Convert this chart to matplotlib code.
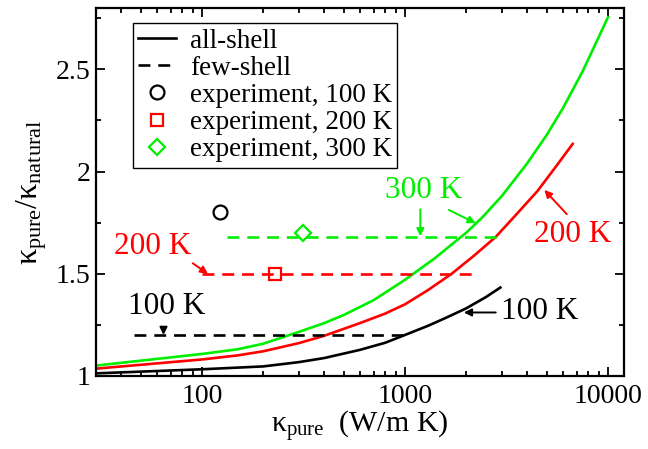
import matplotlib
matplotlib.use("Agg")
import matplotlib.pyplot as plt
from matplotlib.ticker import LogLocator, NullFormatter

plt.rcParams['font.family'] = ['Liberation Serif', 'DejaVu Serif']
plt.rcParams['mathtext.fontset'] = 'custom'
plt.rcParams['mathtext.rm'] = 'Liberation Serif'
plt.rcParams['mathtext.it'] = 'Liberation Serif'
plt.rcParams['mathtext.bf'] = 'Liberation Serif:bold'

# all-shell curves (kappa_pure, ratio)
k_100 = [30, 100, 200, 300, 400, 600, 800, 1000, 1300, 1600, 2000, 2500, 2950]
r_100 = [1.012, 1.032, 1.046, 1.067, 1.087, 1.127, 1.162, 1.2, 1.245, 1.285, 1.33, 1.385, 1.432]
k_200 = [30, 100, 150, 200, 300, 400, 600, 800, 1000, 1300, 1700, 2200, 2800, 3500, 4500, 5500, 6700]
r_200 = [1.035, 1.08, 1.10, 1.12, 1.16, 1.196, 1.258, 1.305, 1.35, 1.42, 1.5, 1.59, 1.68, 1.785,
         1.905, 2.02, 2.135]
k_300 = [30, 100, 150, 200, 300, 400, 500, 700, 1000, 1400, 2000, 2400, 3000, 4000, 5000, 6000,
         7500, 10000]
r_300 = [1.05, 1.107, 1.13, 1.157, 1.215, 1.258, 1.298, 1.37, 1.47, 1.575, 1.70, 1.775, 1.88,
         2.04, 2.18, 2.31, 2.49, 2.755]

# few-shell (flat) results
few_k = [[46, 1000], [100, 2190], [133, 2950]]
few_r = [1.2, 1.5, 1.68]

# experiment
exp_k = [123, 230, 315]
exp_r = [1.8, 1.5, 1.7]

colors = ['black', '#ff0000', '#00ee00']

fig = plt.figure(figsize=(6.48, 4.49), dpi=100)
ax = fig.add_axes([0.148, 0.163, 0.815, 0.819])

lw = 1.9
ax.plot(k_100, r_100, color=colors[0], lw=lw)
ax.plot(k_200, r_200, color=colors[1], lw=lw)
ax.plot(k_300, r_300, color=colors[2], lw=lw)
for i in range(3):
    ax.plot(few_k[i], [few_r[i], few_r[i]], color=colors[i], lw=lw, dashes=(4.5, 3))

ax.plot(exp_k[0], exp_r[0], 'o', ms=10, mfc='none', mec=colors[0], mew=1.6)
ax.plot(exp_k[1], exp_r[1], 's', ms=9, mfc='none', mec=colors[1], mew=1.6)
ax.plot(exp_k[2], exp_r[2], 'D', ms=8, mfc='none', mec=colors[2], mew=1.6)

# annotations
fs = 22.5
ap = dict(arrowstyle='-|>', lw=1.4, mutation_scale=11, shrinkA=0, shrinkB=0)
ax.text(1238, 1.905, '300 K', color=colors[2], fontsize=fs, ha='center', va='center')
ax.annotate('', xy=(1190, 1.683), xytext=(1190, 1.815), arrowprops=dict(ap, color=colors[2]))
ax.annotate('', xy=(2230, 1.747), xytext=(1645, 1.812), arrowprops=dict(ap, color=colors[2]))
ax.text(57.4, 1.632, '200 K', color=colors[1], fontsize=fs, ha='center', va='center')
ax.annotate('', xy=(107, 1.499), xytext=(90, 1.551), arrowprops=dict(ap, color=colors[1]))
ax.text(6720, 1.69, '200 K', color=colors[1], fontsize=fs, ha='center', va='center')
ax.annotate('', xy=(4860, 1.91), xytext=(6270, 1.791), arrowprops=dict(ap, color=colors[1]))
ax.text(67, 1.339, '100 K', color=colors[0], fontsize=fs, ha='center', va='center')
ax.annotate('', xy=(64.6, 1.2), xytext=(64.6, 1.233), arrowprops=dict(ap, color=colors[0]))
ax.text(4590, 1.314, '100 K', color=colors[0], fontsize=fs, ha='center', va='center')
ax.annotate('', xy=(1950, 1.31), xytext=(2800, 1.31), arrowprops=dict(ap, color=colors[0]))

# legend
h1, = ax.plot([], [], color='black', lw=lw, label='all-shell')
h2, = ax.plot([], [], color='black', lw=lw, dashes=(4.5, 3), label='few-shell')
h3, = ax.plot([], [], 'o', ms=10, mfc='none', mec=colors[0], mew=1.6, label='experiment, 100 K')
h4, = ax.plot([], [], 's', ms=9, mfc='none', mec=colors[1], mew=1.6, label='experiment, 200 K')
h5, = ax.plot([], [], 'D', ms=8, mfc='none', mec=colors[2], mew=1.6, label='experiment, 300 K')
leg = ax.legend(handles=[h1, h2, h3, h4, h5], loc='upper left', bbox_to_anchor=(0.07, 0.959),
                borderaxespad=0, fontsize=19.5, fancybox=False, framealpha=1, edgecolor='black',
                labelspacing=0.08, handlelength=1.4, handletextpad=0.5, borderpad=0.2)
leg.get_frame().set_linewidth(1.0)

ax.set_xscale('log')
ax.set_xlim(30, 12000)
ax.set_ylim(1, 2.8)
ax.set_xticks([100, 1000, 10000], labels=['100', '1000', '10000'])
ax.xaxis.set_minor_locator(LogLocator(base=10, subs=range(2, 10)))
ax.xaxis.set_minor_formatter(NullFormatter())
ax.set_yticks([1, 1.5, 2, 2.5], labels=['1', '1.5', '2', '2.5'])
ax.set_yticks([1.25, 1.75, 2.25, 2.75], minor=True)
ax.tick_params(which='both', direction='in', top=True, right=True, labelsize=20, width=1.3)
ax.tick_params(which='major', length=6.5)
ax.tick_params(which='minor', length=3.5)
ax.tick_params(axis='x', pad=6)
ax.tick_params(axis='y', pad=4)
for s in ax.spines.values():
    s.set_linewidth(1.6)

ax.set_xlabel(r'$\kappa_{pure}$  (W/m K)', fontsize=21.5, labelpad=0)
ax.set_ylabel(r'$\kappa_{pure}/\kappa_{natural}$', fontsize=23, labelpad=5)

fig.savefig('out.png', dpi=100)
